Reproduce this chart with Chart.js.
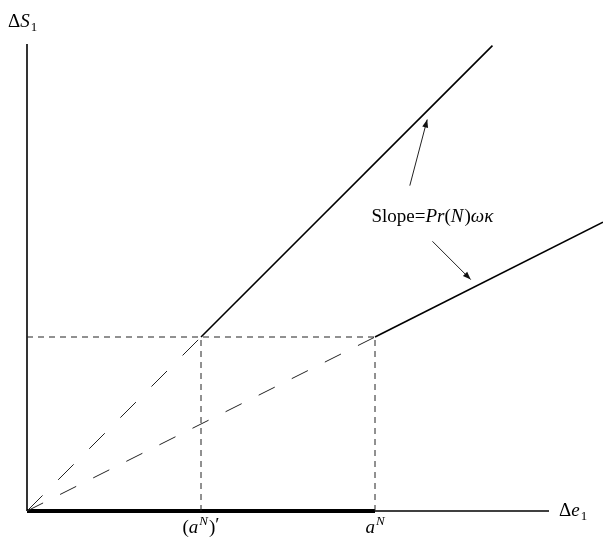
<!DOCTYPE html>
<html>
<head>
<meta charset="utf-8">
<script src="https://cdn.jsdelivr.net/npm/chart.js"></script>
<style>
  html, body { margin: 0; padding: 0; background: #fff; }
  #wrap { width: 603px; height: 543px; position: relative; }
</style>
</head>
<body>
<div id="wrap"><canvas id="chart"></canvas></div>
<script>
// Data (in units where (a^N)' = 1 and the kink height = 1)
const tickValues = [1, 2];
const tickNames = ["(a^N)'", "a^N"];
const steepSeg = [[1, 1], [2.675, 2.675]];
const flatSeg = [[2, 1], [3.31, 1.66]];
const rayA = [[0, 0], [1, 1]];
const rayB = [[0, 0], [2, 1]];
const guideH = [[0, 1], [2, 1]];
const guideV1 = [[1, 0], [1, 1]];
const guideV2 = [[2, 0], [2, 1]];
const thickSeg = [[0, 0], [2, 0]];
const xAxisSeg = [[0, 0], [3.0, 0]];
const yAxisSeg = [[0, 0], [0, 2.684]];
const arrowUp = [[2.20, 1.87], [2.30, 2.25]];
const arrowDown = [[2.33, 1.55], [2.55, 1.33]];
const slopeLabelAt = [2.33, 1.66];

const pts = a => a.map(p => ({ x: p[0], y: p[1] }));
const SERIF = '"Liberation Serif", "DejaVu Serif", serif';
const FS = 19, SUB = 13;

function seg(data, width, color, dash) {
    return {
        data: pts(data),
        showLine: true,
        borderColor: color,
        borderWidth: width,
        borderDash: dash || [],
        pointRadius: 0,
        fill: false,
        clip: false,
        tension: 0
    };
}

// draw a list of text runs (roman / italic / raised) starting at x or centred on x
function drawRuns(ctx, runs, x, y, align) {
    let total = 0;
    runs.forEach(r => {
        ctx.font = (r.it ? 'italic ' : '') + (r.size || FS) + 'px ' + SERIF;
        r.w = ctx.measureText(r.t).width;
        total += r.w + (r.gap || 0);
    });
    let cx = align === 'center' ? x - total / 2 : x;
    runs.forEach(r => {
        ctx.font = (r.it ? 'italic ' : '') + (r.size || FS) + 'px ' + SERIF;
        ctx.fillText(r.t, cx, y + (r.dy || 0));
        cx += r.w + (r.gap || 0);
    });
}

const annotations = {
    id: 'annotations',
    afterDatasetsDraw(chart) {
        const ctx = chart.ctx;
        const xs = chart.scales.x, ys = chart.scales.y;
        const px = v => xs.getPixelForValue(v), py = v => ys.getPixelForValue(v);
        ctx.save();
        ctx.textBaseline = 'alphabetic';
        ctx.textAlign = 'left';

        // arrow heads
        [arrowUp, arrowDown].forEach(a => {
            const x0 = px(a[0][0]), y0 = py(a[0][1]);
            const x1 = px(a[1][0]), y1 = py(a[1][1]);
            const ang = Math.atan2(y1 - y0, x1 - x0);
            const L = 8, W = 3;
            ctx.beginPath();
            ctx.moveTo(x1, y1);
            ctx.lineTo(x1 - L * Math.cos(ang) + W * Math.sin(ang), y1 - L * Math.sin(ang) - W * Math.cos(ang));
            ctx.lineTo(x1 - L * Math.cos(ang) - W * Math.sin(ang), y1 - L * Math.sin(ang) + W * Math.cos(ang));
            ctx.closePath();
            ctx.fillStyle = '#111';
            ctx.fill();
        });
        ctx.fillStyle = '#000';

        // axis titles
        const x0 = px(0), y0 = py(0);
        drawRuns(ctx, [{ t: 'Δ' }, { t: 'S', it: true, gap: 1 }, { t: '1', size: SUB, dy: 4 }], x0 - 19, chart.chartArea.top - 17, 'left');
        drawRuns(ctx, [{ t: 'Δ' }, { t: 'e', it: true, gap: 1 }, { t: '1', size: SUB, dy: 4 }], px(3.0) + 10, y0 + 5, 'left');

        // tick labels
        tickValues.forEach((v, i) => {
            const runs = tickNames[i] === "a^N"
                ? [{ t: 'a', it: true, gap: 1 }, { t: 'N', it: true, size: SUB, dy: -8 }]
                : [{ t: '(' }, { t: 'a', it: true, gap: 1 }, { t: 'N', it: true, size: SUB, dy: -8, gap: 1 }, { t: ')' }, { t: '′', dy: -2 }];
            drawRuns(ctx, runs, px(v), y0 + 22, 'center');
        });

        // slope label
        drawRuns(ctx, [
            { t: 'Slope=' }, { t: 'Pr', it: true }, { t: '(' }, { t: 'N', it: true, gap: 1 },
            { t: ')' }, { t: 'ωκ', it: true }
        ], px(slopeLabelAt[0]), py(slopeLabelAt[1]), 'center');
        ctx.restore();
    }
};

new Chart(document.getElementById('chart').getContext('2d'), {
    type: 'scatter',
    data: {
        datasets: [
            seg(guideH, 1, '#222', [6, 5]),
            seg(guideV1, 1, '#222', [6, 5]),
            seg(guideV2, 1, '#222', [6, 5]),
            seg(rayA, 1, '#222', [22, 22]),
            seg(rayB, 1, '#222', [18, 19]),
            seg(xAxisSeg, 1.3, '#000'),
            seg(yAxisSeg, 1.6, '#000'),
            seg(thickSeg, 4, '#000'),
            seg(steepSeg, 1.6, '#000'),
            seg(flatSeg, 1.6, '#000'),
            seg(arrowUp, 1, '#222'),
            seg(arrowDown, 1, '#222')
        ]
    },
    options: {
        responsive: true,
        maintainAspectRatio: false,
        animation: false,
        layout: { padding: { left: 27, right: 0, top: 44, bottom: 32 } },
        plugins: { legend: { display: false }, tooltip: { enabled: false } },
        scales: {
            x: { type: 'linear', min: 0, max: 3.3103, display: false },
            y: { type: 'linear', min: 0, max: 2.684, display: false }
        }
    },
    plugins: [annotations]
});
</script>
</body>
</html>
